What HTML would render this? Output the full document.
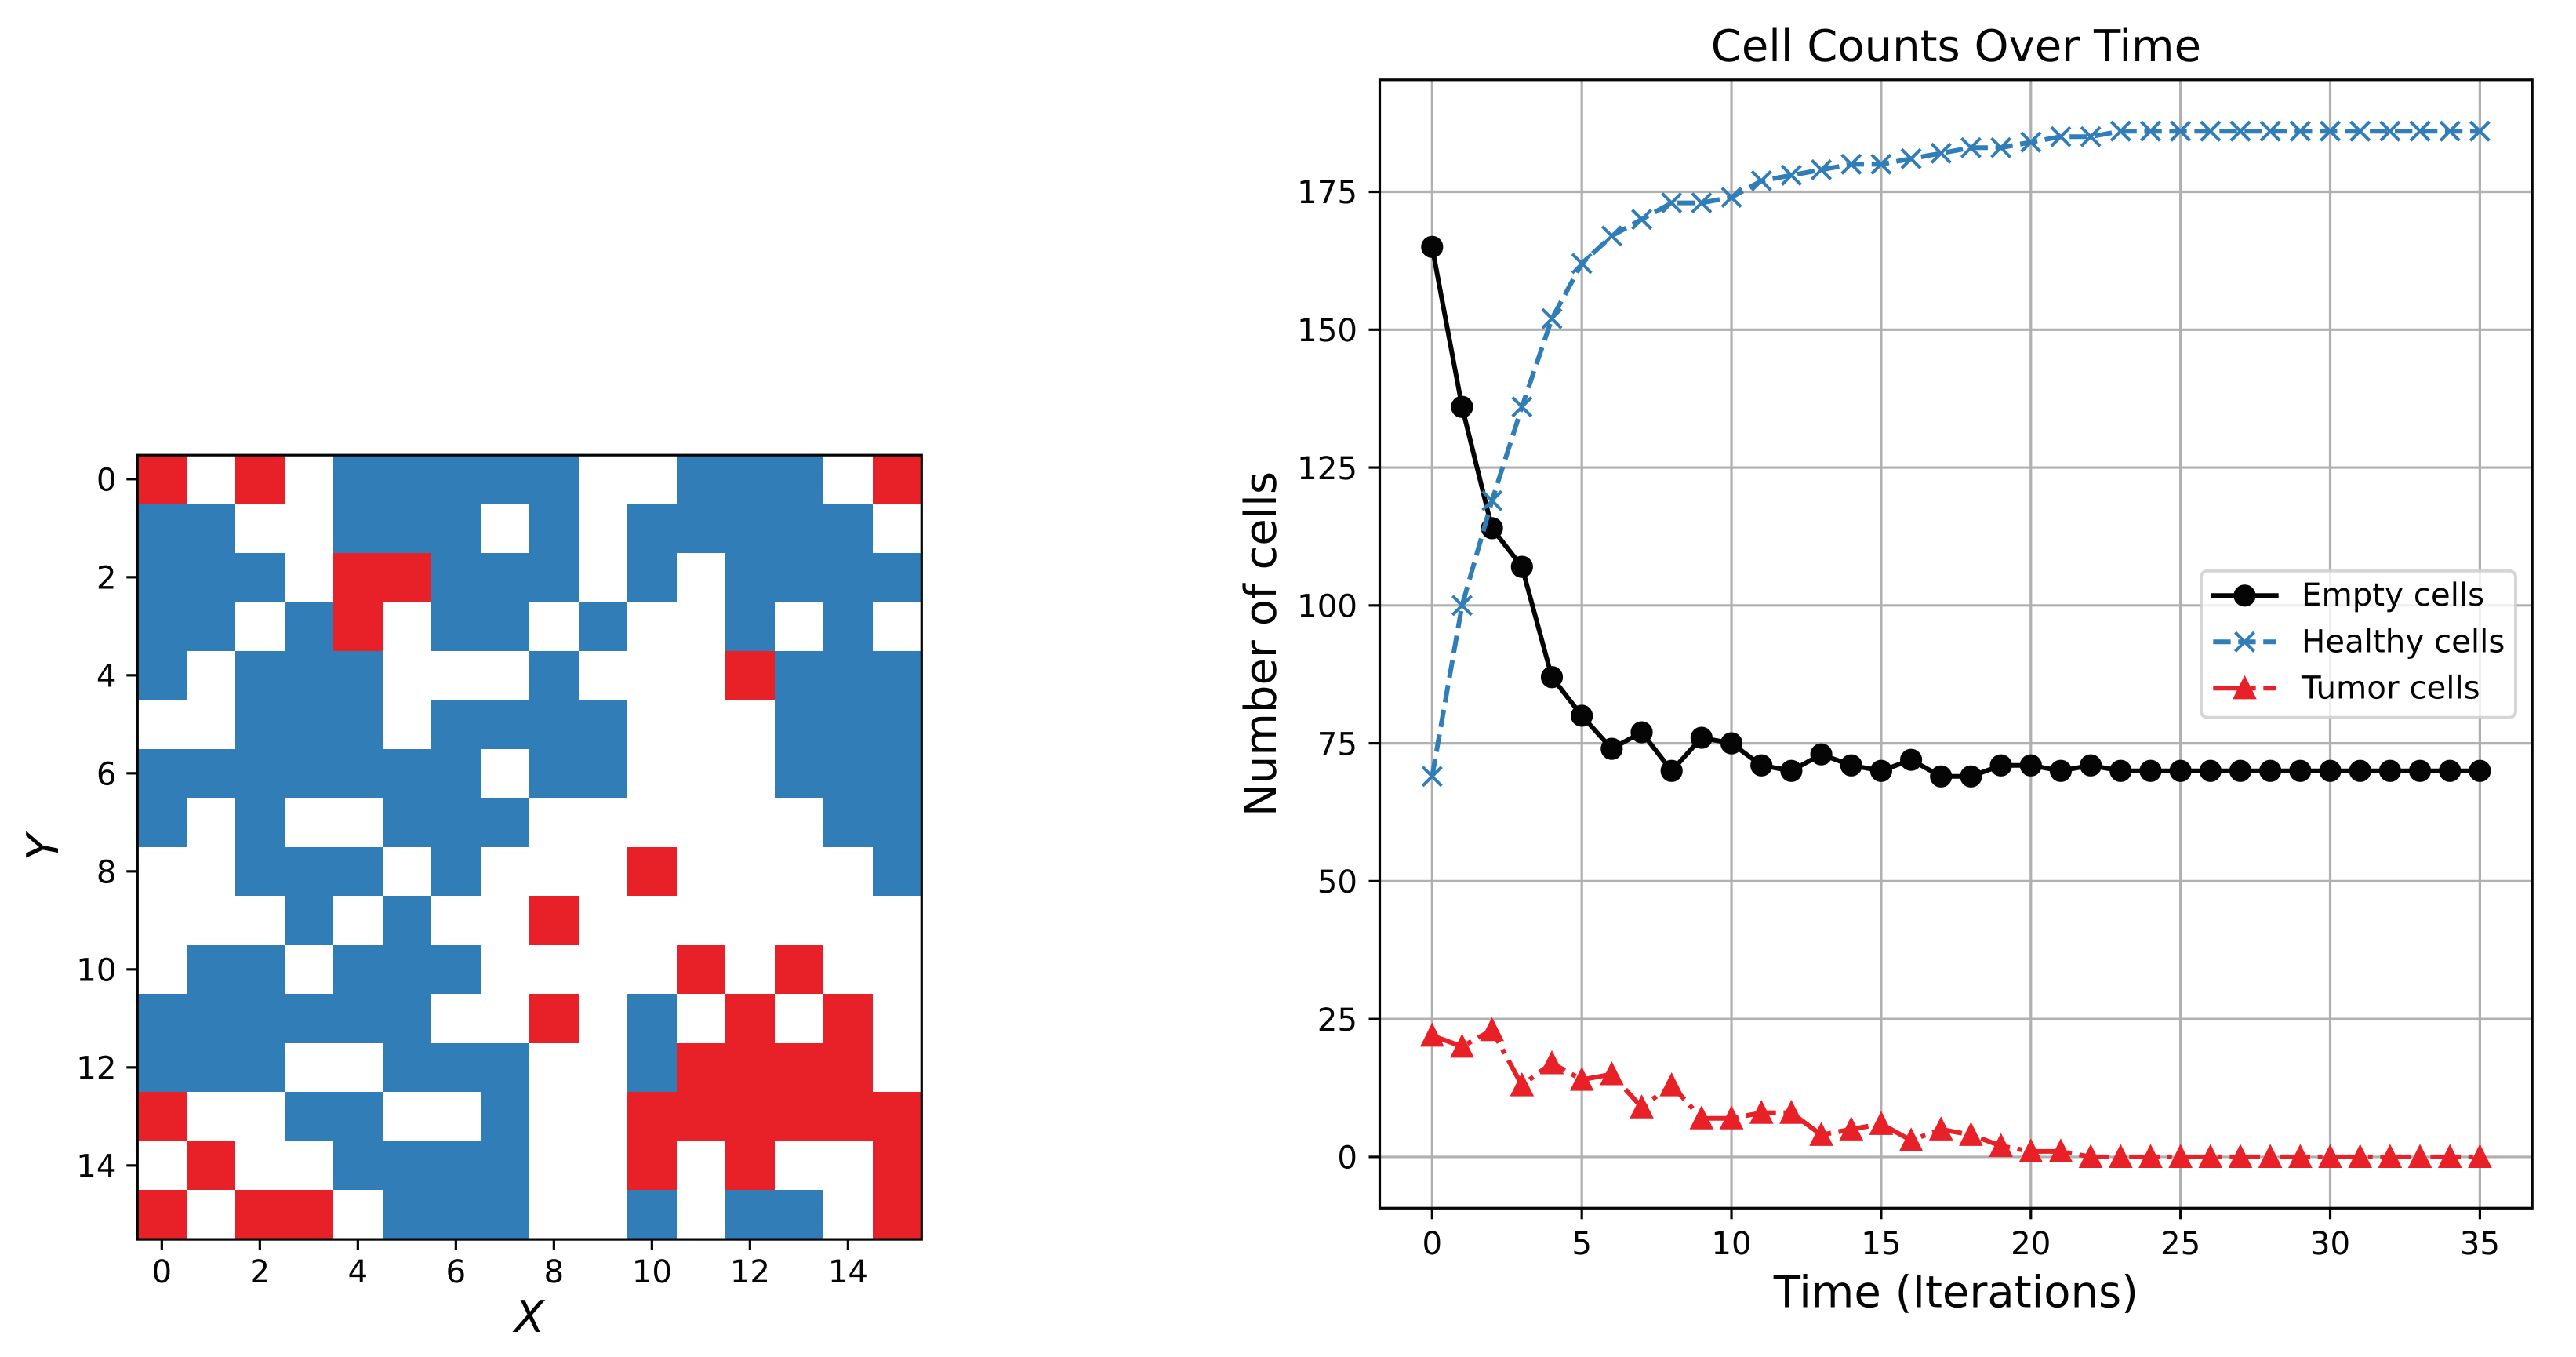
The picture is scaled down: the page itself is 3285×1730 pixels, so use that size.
<!DOCTYPE html>
<html lang="en">
<head>
<meta charset="utf-8">
<title>Cell grid and cell counts over time</title>
<style>
html,body{margin:0;padding:0;background:#fff;width:3285px;height:1730px;overflow:hidden}
svg{display:block}
text{font-family:"DejaVu Sans","Liberation Sans",sans-serif;fill:#050505;text-rendering:geometricPrecision}
.tick-label{font-size:40.3px}
.axis-title{font-size:56px}
.legend-label{font-size:40.3px}
</style>
</head>
<body>
<svg id="figure" xmlns="http://www.w3.org/2000/svg" width="3285" height="1730" viewBox="0 0 3285 1730">
  <rect x="0" y="0" width="3285" height="1730" fill="#fff"/>

  <g id="grid-chart">
    <g id="heat-cells"></g>
    <rect x="175.3" y="580.2" width="1000" height="999.9" fill="none" stroke="#050505" stroke-width="3.2"/>
    <g id="heat-ticks"></g>
    <text class="axis-title" x="675" y="1698" text-anchor="middle" font-style="italic">X</text>
    <text class="axis-title" transform="translate(74 1080) rotate(-90)" text-anchor="middle" font-style="italic">Y</text>
  </g>

  <g id="line-chart">
    <g id="grid-lines"></g>
    <g id="series"></g>
    <rect x="1759.5" y="101.8" width="1469.7" height="1438.5" fill="none" stroke="#050505" stroke-width="3.2"/>
    <g id="line-ticks"></g>
    <text class="axis-title" x="2494.4" y="78" text-anchor="middle">Cell Counts Over Time</text>
    <text class="axis-title" x="2494.4" y="1666.5" text-anchor="middle">Time (Iterations)</text>
    <text class="axis-title" transform="translate(1627 821) rotate(-90)" text-anchor="middle">Number of cells</text>

    <g>
      <rect x="2807" y="727.7" width="401" height="187" rx="8" ry="8" fill="#fff" fill-opacity="0.8" stroke="#cccccc" stroke-opacity="0.8" stroke-width="4"/>
      <g>
        <line x1="2822.3" y1="759.3" x2="2902.7" y2="759.3" stroke="#050505" stroke-width="6" stroke-linecap="square"/>
        <circle cx="2862.5" cy="759.3" r="12.1" fill="#050505" stroke="#050505" stroke-width="4"/>
        <text class="legend-label" x="2935" y="772">Empty cells</text>
      </g>
      <g>
        <line x1="2822.3" y1="818.3" x2="2902.7" y2="818.3" stroke="#317db8" stroke-width="6" stroke-dasharray="22.3 9.66"/>
        <path d="M2850.4 806.2L2874.6 830.4M2850.4 830.4L2874.6 806.2" stroke="#317db8" stroke-width="4" fill="none"/>
        <text class="legend-label" x="2935" y="831.5">Healthy cells</text>
      </g>
      <g>
        <line x1="2822.3" y1="877.3" x2="2902.7" y2="877.3" stroke="#e82027" stroke-width="6" stroke-dasharray="38.7 9.66 6 9.66"/>
        <path d="M2862.5 865.2L2850.4 889.4L2874.6 889.4Z" fill="#e82027" stroke="#e82027" stroke-width="4" stroke-linejoin="miter"/>
        <text class="legend-label" x="2935" y="890.5">Tumor cells</text>
      </g>
    </g>
  </g>
</svg>

<script>
// Cell grid states: 0 = empty, 1 = healthy, 2 = tumor
const gridRow0  = [2,0,2,0,1,1,1,1,1,0,0,1,1,1,0,2];
const gridRow1  = [1,1,0,0,1,1,1,0,1,0,1,1,1,1,1,0];
const gridRow2  = [1,1,1,0,2,2,1,1,1,0,1,0,1,1,1,1];
const gridRow3  = [1,1,0,1,2,0,1,1,0,1,0,0,1,0,1,0];
const gridRow4  = [1,0,1,1,1,0,0,0,1,0,0,0,2,1,1,1];
const gridRow5  = [0,0,1,1,1,0,1,1,1,1,0,0,0,1,1,1];
const gridRow6  = [1,1,1,1,1,1,1,0,1,1,0,0,0,1,1,1];
const gridRow7  = [1,0,1,0,0,1,1,1,0,0,0,0,0,0,1,1];
const gridRow8  = [0,0,1,1,1,0,1,0,0,0,2,0,0,0,0,1];
const gridRow9  = [0,0,0,1,0,1,0,0,2,0,0,0,0,0,0,0];
const gridRow10 = [0,1,1,0,1,1,1,0,0,0,0,2,0,2,0,0];
const gridRow11 = [1,1,1,1,1,1,0,0,2,0,1,0,2,0,2,0];
const gridRow12 = [1,1,1,0,0,1,1,1,0,0,1,2,2,2,2,0];
const gridRow13 = [2,0,0,1,1,0,0,1,0,0,2,2,2,2,2,2];
const gridRow14 = [0,2,0,0,1,1,1,1,0,0,2,0,2,0,0,2];
const gridRow15 = [2,0,2,2,0,1,1,1,0,0,1,0,1,1,0,2];
const gridRows = [gridRow0,gridRow1,gridRow2,gridRow3,gridRow4,gridRow5,gridRow6,gridRow7,gridRow8,gridRow9,gridRow10,gridRow11,gridRow12,gridRow13,gridRow14,gridRow15];
const gridTickLabels = [0,2,4,6,8,10,12,14];

// Cell counts over time
const iterations = [0,1,2,3,4,5,6,7,8,9,10,11,12,13,14,15,16,17,18,19,20,21,22,23,24,25,26,27,28,29,30,31,32,33,34,35];
const emptyCells = [165,136,114,107,87,80,74,77,70,76,75,71,70,73,71,70,72,69,69,71,71,70,71,70,70,70,70,70,70,70,70,70,70,70,70,70];
const healthyCells = [69,100,119,136,152,162,167,170,173,173,174,177,178,179,180,180,181,182,183,183,184,185,185,186,186,186,186,186,186,186,186,186,186,186,186,186];
const tumorCells = [22,20,23,13,17,14,15,9,13,7,7,8,8,4,5,6,3,5,4,2,1,1,0,0,0,0,0,0,0,0,0,0,0,0,0,0];
const xTickLabels = [0,5,10,15,20,25,30,35];
const yTickLabels = [0,25,50,75,100,125,150,175];

const SVG_NS = 'http://www.w3.org/2000/svg';
const BLACK = '#050505', BLUE = '#317db8', RED = '#e82027';
const cellFill = ['#ffffff', BLUE, RED];

function create(tag, parent, attrs) {
  const node = document.createElementNS(SVG_NS, tag);
  for (const key in attrs) node.setAttribute(key, attrs[key]);
  document.getElementById(parent).appendChild(node);
  return node;
}

// Axis functions: grid chart
const gridLeft = 175.1, gridTop = 579.6, gridSize = 1000;
const cellSize = () => gridSize / gridRows[0].length;
const gridX = c => gridLeft + (c + 0.5) * cellSize();
const gridY = r => gridTop + (r + 0.5) * cellSize();

// Axis functions: line chart
const xMin = -1.75, xMax = 36.75, yMin = -9.3, yMax = 195.3;
const plotLeft = 1759.5, plotRight = 3229.2, plotTop = 101.8, plotBottom = 1540.3;
const xScale = v => plotLeft + (v - xMin) / (xMax - xMin) * (plotRight - plotLeft);
const yScale = v => plotBottom - (v - yMin) / (yMax - yMin) * (plotBottom - plotTop);

// Heatmap cells
gridRows.forEach((row, r) => {
  row.forEach((state, c) => {
    const s = cellSize();
    const x0 = Math.round(gridX(c) - s / 2), x1 = Math.round(gridX(c) + s / 2);
    const y0 = Math.round(gridY(r) - s / 2), y1 = Math.round(gridY(r) + s / 2);
    const cell = create('rect', 'heat-cells', {x: x0, y: y0, width: x1 - x0, height: y1 - y0, fill: cellFill[state], 'shape-rendering': 'crispEdges'});
    
    
  });
});

// Heatmap ticks
gridTickLabels.forEach(v => {
  const xt = create('line', 'heat-ticks', {x1: gridX(v), x2: gridX(v), y1: 1580, y2: 1594, stroke: BLACK, 'stroke-width': 3.2});
  
  
  const xl = create('text', 'heat-ticks', {x: gridX(v), y: 1635, 'text-anchor': 'middle', class: 'tick-label'});
  xl.textContent = v;
  
  
  const yt = create('line', 'heat-ticks', {x1: 175.3, x2: 161.3, y1: gridY(v), y2: gridY(v), stroke: BLACK, 'stroke-width': 3.2});
  
  
  const yl = create('text', 'heat-ticks', {x: 148.5, y: gridY(v) + 14.7, 'text-anchor': 'end', class: 'tick-label'});
  yl.textContent = v;
  
  
});

// Line chart gridlines and ticks
xTickLabels.forEach(v => {
  const g = create('line', 'grid-lines', {x1: xScale(v), x2: xScale(v), y1: plotTop, y2: plotBottom, stroke: '#b0b0b0', 'stroke-width': 3.2});
  
  
  const t = create('line', 'line-ticks', {x1: xScale(v), x2: xScale(v), y1: plotBottom, y2: plotBottom + 14, stroke: BLACK, 'stroke-width': 3.2});
  
  
  const l = create('text', 'line-ticks', {x: xScale(v), y: 1599, 'text-anchor': 'middle', class: 'tick-label'});
  l.textContent = v;
  
  
});
yTickLabels.forEach(v => {
  const g = create('line', 'grid-lines', {x1: plotLeft, x2: plotRight, y1: yScale(v), y2: yScale(v), stroke: '#b0b0b0', 'stroke-width': 3.2});
  
  
  const t = create('line', 'line-ticks', {x1: plotLeft, x2: plotLeft - 14, y1: yScale(v), y2: yScale(v), stroke: BLACK, 'stroke-width': 3.2});
  
  
  const l = create('text', 'line-ticks', {x: 1731, y: yScale(v) + 14.7, 'text-anchor': 'end', class: 'tick-label'});
  l.textContent = v;
  
  
});

function pathFor(values) {
  return values.map((v, i) => (i ? 'L' : 'M') + xScale(iterations[i]).toFixed(2) + ' ' + yScale(v).toFixed(2)).join('');
}

// Empty cells series
const emptyLine = create('path', 'series', {d: pathFor(emptyCells), fill: 'none', stroke: BLACK, 'stroke-width': 6, 'stroke-linejoin': 'round', 'stroke-linecap': 'square'});


emptyCells.forEach((v, i) => {
  const m = create('circle', 'series', {cx: xScale(iterations[i]), cy: yScale(v), r: 12.1, fill: BLACK, stroke: BLACK, 'stroke-width': 4});
  
  
});

// Healthy cells series
const healthyLine = create('path', 'series', {d: pathFor(healthyCells), fill: 'none', stroke: BLUE, 'stroke-width': 6, 'stroke-linejoin': 'round', 'stroke-dasharray': '22.3 9.66'});


healthyCells.forEach((v, i) => {
  const x = xScale(iterations[i]), y = yScale(v), h = 12.1;
  const d = 'M' + (x - h) + ' ' + (y - h) + 'L' + (x + h) + ' ' + (y + h) + 'M' + (x - h) + ' ' + (y + h) + 'L' + (x + h) + ' ' + (y - h);
  const m = create('path', 'series', {d: d, fill: 'none', stroke: BLUE, 'stroke-width': 4});
  
  
});

// Tumor cells series
const tumorLine = create('path', 'series', {d: pathFor(tumorCells), fill: 'none', stroke: RED, 'stroke-width': 6, 'stroke-linejoin': 'round', 'stroke-dasharray': '38.7 9.66 6 9.66'});


tumorCells.forEach((v, i) => {
  const x = xScale(iterations[i]), y = yScale(v), h = 12.1;
  const d = 'M' + x + ' ' + (y - h) + 'L' + (x - h) + ' ' + (y + h) + 'L' + (x + h) + ' ' + (y + h) + 'Z';
  const m = create('path', 'series', {d: d, fill: RED, stroke: RED, 'stroke-width': 4, 'stroke-linejoin': 'miter'});
  
  
});
</script>
</body>
</html>
